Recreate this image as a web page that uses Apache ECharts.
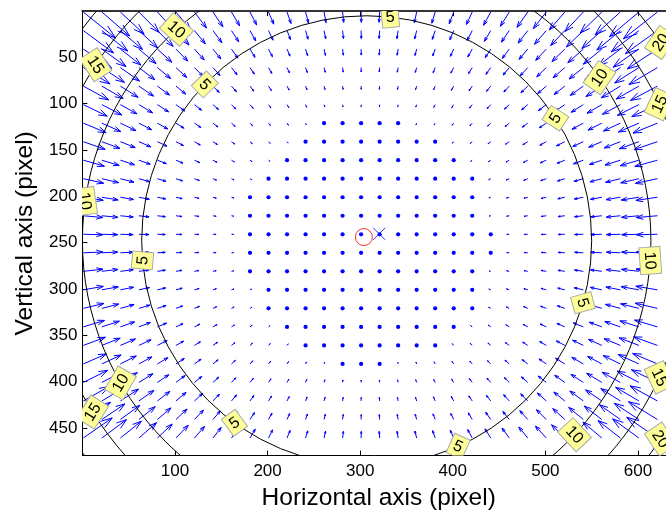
<!DOCTYPE html>
<html>
<head>
<meta charset="utf-8">
<script src="https://cdn.jsdelivr.net/npm/echarts@6/dist/echarts.min.js"></script>
<style>
html,body{margin:0;padding:0;background:#fff;}
#main{width:666px;height:512px;}
</style>
</head>
<body>
<div id="main"></div>
<script>
// grid of the vector field (image pixels)
var gridX = [1,21,41,61,81,101,121,141,161,181,201,221,241,261,281,301,321,341,361,381,401,421,441,461,481,501,521,541,561,581,601,621];
var gridY = [1,21,41,61,81,101,121,141,161,181,201,221,241,261,281,301,321,341,361,381,401,421,441,461];

// principal point (red o), image centre (blue x), centre of the distortion field
var principalPoint = [304, 244];
var imageCenter = [320.5, 240.5];
var distortionCenter = [307, 248];

// radial distortion: displacement = radialK * r^3 (pixels)
var radialK = 3.49e-7;
var arrowScale = 2.1;

// contours
var contourLevels = [5, 10, 15, 20];
var contourRadius = [243, 307, 349, 383];

// contour labels: level and polar angle (deg, y down) round the distortion centre
var labelLevel = [5, 10, 15, 5, 10, 5, 10, 15, 5, 5, 10, 20, 15, 5, 10, 15, 20, 10, 5];
var labelAngle = [-84, -132, -147, -136, -172, 175, 150, 148, 126, 66, 43, 34, 25, 16, 4, -25, -34, -35, -33];

var xTicks = [0, 640, 100];
var yTicks = [0, 480, 50];

var FONT = 'Liberation Sans';
var BLUE = '#0000ff';

var arrowData = [];
gridY.forEach(function (y) {
    gridX.forEach(function (x) {
        var dx = x - distortionCenter[0], dy = y - distortionCenter[1];
        var r = Math.sqrt(dx * dx + dy * dy);
        var d = radialK * r * r * r;
        var u = r > 0 ? -d * dx / r * arrowScale : 0;
        var v = r > 0 ? -d * dy / r * arrowScale : 0;
        arrowData.push([x, y, u, v]);
    });
});

var circleData = contourRadius.map(function (R, i) {
    return [distortionCenter[0], distortionCenter[1], R, contourLevels[i]];
});

var labelData = labelLevel.map(function (lv, i) {
    var R = contourRadius[contourLevels.indexOf(lv)];
    var t = labelAngle[i] * Math.PI / 180;
    var rot = labelAngle[i] + 90;
    while (rot > 90) rot -= 180;
    while (rot <= -90) rot += 180;
    return [distortionCenter[0] + R * Math.cos(t), distortionCenter[1] + R * Math.sin(t), lv, rot];
});

var myChart = echarts.init(document.getElementById('main'), null, {renderer: 'canvas'});

var option = {
    animation: false,
    backgroundColor: '#fff',
    grid: {left: 82.4, top: 11.1, width: 592.6, height: 444.5, containLabel: false, outerBoundsMode: 'none'},
    xAxis: [
        {
            type: 'value', min: xTicks[0], max: xTicks[1], interval: xTicks[2], position: 'bottom',
            axisLine: {show: true, onZero: false, lineStyle: {color: '#000', width: 1}},
            axisTick: {show: true, inside: true, length: 5, lineStyle: {color: '#000'}},
            axisLabel: {
                fontSize: 17, fontFamily: FONT, color: '#000', margin: 7,
                showMinLabel: false, showMaxLabel: false
            },
            splitLine: {show: false},
            name: 'Horizontal axis (pixel)', nameLocation: 'middle', nameGap: 30,
            nameTextStyle: {fontSize: 24.5, fontFamily: FONT, color: '#000'}
        },
        {
            type: 'value', min: xTicks[0], max: xTicks[1], interval: xTicks[2], position: 'top',
            axisLine: {show: true, onZero: false, lineStyle: {color: '#333', width: 2}},
            axisTick: {show: true, inside: true, length: 5, lineStyle: {color: '#000'}},
            axisLabel: {show: false},
            splitLine: {show: false}
        }
    ],
    yAxis: {
        type: 'value', inverse: true, min: yTicks[0], max: yTicks[1], interval: yTicks[2],
        axisLine: {show: true, onZero: false, lineStyle: {color: '#000', width: 1}},
        axisTick: {show: true, inside: true, length: 5, lineStyle: {color: '#000'}},
        axisLabel: {
            fontSize: 17, fontFamily: FONT, color: '#000', margin: 5,
            showMinLabel: false, showMaxLabel: false
        },
        splitLine: {show: false},
        name: 'Vertical axis (pixel)', nameLocation: 'middle', nameGap: 44, nameRotate: 90,
        nameTextStyle: {fontSize: 24.5, fontFamily: FONT, color: '#000'}
    },
    series: [
        {
            // quiver arrows
            type: 'custom',
            clip: true,
            z: 2,
            encode: {x: 0, y: 1},
            data: arrowData,
            renderItem: function (params, api) {
                var x = api.value(0), y = api.value(1), u = api.value(2), v = api.value(3);
                var p0 = api.coord([x, y]);
                var p1 = api.coord([x + u, y + v]);
                var ddx = p1[0] - p0[0], ddy = p1[1] - p0[1];
                var len = Math.sqrt(ddx * ddx + ddy * ddy);
                if (len < 1.7) {
                    return {type: 'circle', shape: {cx: p0[0], cy: p0[1], r: 2.1}, style: {fill: BLUE}};
                }
                var a = 0.33, b = 0.33;
                var h1 = [p1[0] - a * (ddx + b * ddy), p1[1] - a * (ddy - b * ddx)];
                var h2 = [p1[0] - a * (ddx - b * ddy), p1[1] - a * (ddy + b * ddx)];
                return {
                    type: 'group',
                    children: [
                        {type: 'line', shape: {x1: p0[0], y1: p0[1], x2: p1[0], y2: p1[1]}, style: {stroke: BLUE, lineWidth: 1}},
                        {type: 'polyline', shape: {points: [h1, p1, h2]}, style: {stroke: BLUE, fill: null, lineWidth: 1}}
                    ]
                };
            }
        },
        {
            // contour circles
            type: 'custom',
            clip: true,
            z: 3,
            encode: {x: 0, y: 1},
            data: circleData,
            renderItem: function (params, api) {
                var c = api.coord([api.value(0), api.value(1)]);
                var R = api.size([api.value(2), 0])[0];
                return {type: 'circle', shape: {cx: c[0], cy: c[1], r: R}, style: {stroke: '#000', fill: null, lineWidth: 1}};
            }
        },
        {
            // contour labels
            type: 'custom',
            clip: true,
            z: 4,
            encode: {x: 0, y: 1},
            data: labelData,
            renderItem: function (params, api) {
                var p = api.coord([api.value(0), api.value(1)]);
                var txt = String(api.value(2));
                var w = txt.length === 1 ? 17 : 27, h = 21;
                return {
                    type: 'group',
                    x: p[0], y: p[1],
                    rotation: api.value(3) * Math.PI / 180,
                    children: [
                        {type: 'rect', shape: {x: -w / 2, y: -h / 2, width: w, height: h}, style: {fill: '#ffff99', stroke: '#aaaaaa', lineWidth: 1}},
                        {type: 'text', style: {text: txt, x: 0, y: 0.5, align: 'center', verticalAlign: 'middle', fontSize: 16, fontFamily: FONT, fill: '#000'}}
                    ]
                };
            }
        },
        {
            type: 'scatter',
            z: 5,
            symbol: 'circle',
            symbolSize: 17,
            itemStyle: {color: 'rgba(0,0,0,0)', borderColor: '#ff0000', borderWidth: 1},
            data: [principalPoint]
        },
        {
            type: 'scatter',
            z: 5,
            symbol: 'path://M0,0L10,10M10,0L0,10',
            symbolSize: 12,
            itemStyle: {color: 'rgba(0,0,0,0)', borderColor: BLUE, borderWidth: 1},
            data: [imageCenter]
        }
    ]
};

myChart.setOption(option, true);
window.onresize = function () {
    myChart.resize();
};
</script>
</body>
</html>
